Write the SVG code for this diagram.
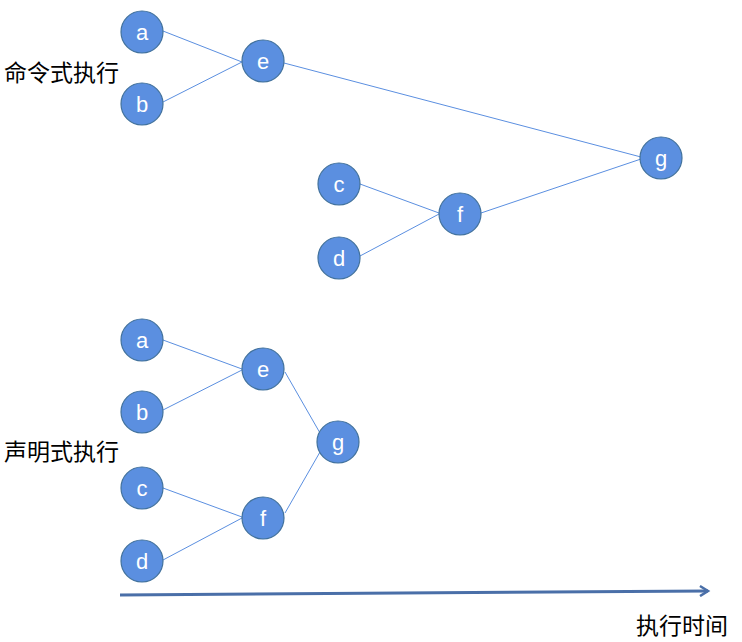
<svg xmlns="http://www.w3.org/2000/svg" width="742" height="642" viewBox="0 0 742 642">
<defs>
<style>
.n circle{fill:#5b8fe0;stroke:#41719c;stroke-width:1.2}
.n text{fill:#fff;font-family:"Liberation Sans",Arial,sans-serif;font-size:22px;text-anchor:middle}
.e line{stroke:#5b8fe0;stroke-width:1}
.lbl{font-family:"Noto Sans CJK SC","Noto Sans",sans-serif;font-size:23px;fill:#000}
</style>
<marker id="arr" markerWidth="12" markerHeight="12" refX="9" refY="6" orient="auto" markerUnits="userSpaceOnUse">
<path d="M1,1 L9,6 L1,11" fill="none" stroke="#4a6fa8" stroke-width="2.5"/>
</marker>
</defs>
<rect width="742" height="642" fill="#fff"/>
<g id="connectors" class="e">
<line x1="163" y1="31" x2="242" y2="62"/>
<line x1="163" y1="102" x2="242" y2="62"/>
<line x1="284" y1="63" x2="641" y2="157"/>
<line x1="360" y1="184" x2="439" y2="213"/>
<line x1="360" y1="256" x2="439" y2="214"/>
<line x1="481" y1="213" x2="641" y2="159"/>
<line x1="163" y1="340" x2="242" y2="369"/>
<line x1="163" y1="410" x2="242" y2="370"/>
<line x1="285" y1="372" x2="320" y2="433"/>
<line x1="285" y1="513" x2="320" y2="452"/>
<line x1="163" y1="488" x2="242" y2="517"/>
<line x1="163" y1="560" x2="242" y2="518"/>
</g>
<g id="timeline">
<line x1="120" y1="595" x2="708" y2="591" stroke="#4a6fa8" stroke-width="3" marker-end="url(#arr)"/>
</g>
<g id="n1a" class="n"><circle cx="142" cy="32" r="21"/><text x="142" y="40">a</text></g>
<g id="n1b" class="n"><circle cx="142" cy="104" r="21"/><text x="142" y="112">b</text></g>
<g id="n1e" class="n"><circle cx="263" cy="61" r="21"/><text x="263" y="69">e</text></g>
<g id="n1g" class="n"><circle cx="661" cy="158" r="21"/><text x="661" y="166">g</text></g>
<g id="n1c" class="n"><circle cx="339" cy="184" r="21"/><text x="339" y="192">c</text></g>
<g id="n1d" class="n"><circle cx="339" cy="258" r="21"/><text x="339" y="266">d</text></g>
<g id="n1f" class="n"><circle cx="460" cy="214" r="21"/><text x="460" y="222">f</text></g>
<g id="n2a" class="n"><circle cx="142" cy="340" r="21"/><text x="142" y="348">a</text></g>
<g id="n2b" class="n"><circle cx="142" cy="412" r="21"/><text x="142" y="420">b</text></g>
<g id="n2e" class="n"><circle cx="263" cy="369" r="21"/><text x="263" y="377">e</text></g>
<g id="n2g" class="n"><circle cx="338" cy="442" r="21"/><text x="338" y="450">g</text></g>
<g id="n2c" class="n"><circle cx="142" cy="488" r="21"/><text x="142" y="496">c</text></g>
<g id="n2d" class="n"><circle cx="142" cy="561" r="21"/><text x="142" y="569">d</text></g>
<g id="n2f" class="n"><circle cx="263" cy="518" r="21"/><text x="263" y="526">f</text></g>
<text class="lbl" x="4" y="81">命令式执行</text>
<text class="lbl" x="4" y="460">声明式执行</text>
<text class="lbl" x="636" y="634">执行时间</text>
</svg>
